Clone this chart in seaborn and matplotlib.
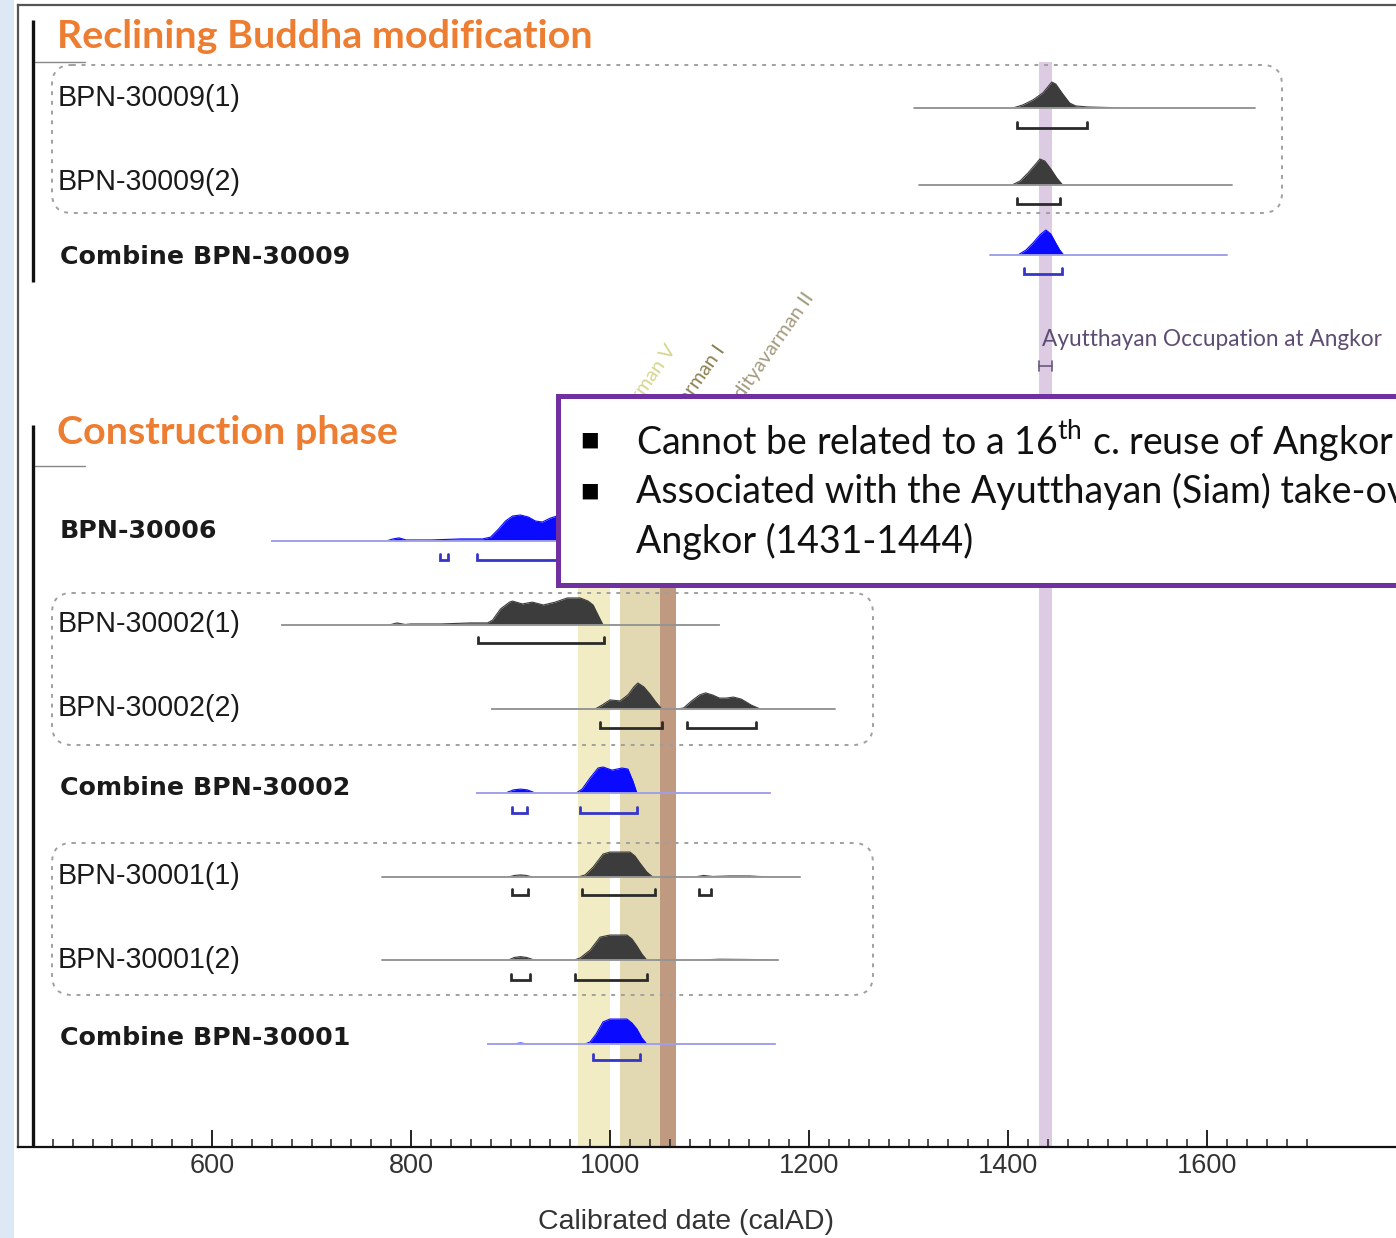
import matplotlib
matplotlib.use("Agg")
import matplotlib.pyplot as plt
import seaborn as sns
from matplotlib.patches import Rectangle, FancyBboxPatch
from matplotlib.ticker import FixedLocator

# ---------------------------------------------------------------- data
row_labels = ["BPN-30009(1)", "BPN-30009(2)", "Combine BPN-30009",
              "BPN-30006", "BPN-30002(1)", "BPN-30002(2)", "Combine BPN-30002",
              "BPN-30001(1)", "BPN-30001(2)", "Combine BPN-30001"]
row_bold = [False, False, True, True, False, False, True, False, False, True]
row_blue = [False, False, True, True, False, False, True, False, False, True]

# relative probability (percent of the tallest peak) against calendar year
bpn30009_1_years = [1306, 1405, 1415, 1425, 1435, 1440, 1444, 1448, 1455, 1462, 1468, 1480, 1500, 1520, 1648]
bpn30009_1_prob = [0, 0, 12, 31, 58, 81, 100, 92, 54, 19, 8, 4, 2, 0, 0]
bpn30009_1_range = [(1409, 1479)]

bpn30009_2_years = [1311, 1404, 1412, 1420, 1427, 1432, 1437, 1443, 1449, 1455, 1625]
bpn30009_2_prob = [0, 0, 15, 46, 77, 100, 92, 62, 27, 0, 0]
bpn30009_2_range = [(1409, 1452)]

comb30009_years = [1382, 1410, 1418, 1425, 1432, 1438, 1443, 1448, 1452, 1456, 1620]
comb30009_prob = [0, 0, 19, 46, 77, 96, 81, 46, 19, 0, 0]
comb30009_range = [(1416, 1454)]

bpn30006_years = [660, 775, 782, 788, 795, 820, 850, 872, 880, 888, 895, 902, 910, 918, 925,
                  932, 940, 950, 960, 975, 985, 992, 998, 1005, 1200]
bpn30006_prob = [0, 0, 8, 12, 4, 4, 8, 8, 15, 46, 77, 96, 100, 92, 77,
                 73, 88, 100, 104, 104, 92, 38, 8, 0, 0]
bpn30006_range = [(829, 837), (866, 995)]

bpn30002_1_years = [670, 778, 786, 794, 800, 830, 860, 877, 882, 890, 899, 902, 912, 922,
                    933, 945, 957, 970, 978, 983, 988, 993, 1110]
bpn30002_1_prob = [0, 0, 8, 2, 4, 4, 8, 8, 19, 62, 88, 92, 81, 88,
                   77, 88, 104, 104, 92, 77, 38, 0, 0]
bpn30002_1_range = [(867, 994)]

bpn30002_2_years = [881, 985, 992, 1000, 1010, 1018, 1024, 1028, 1034, 1040, 1046, 1052, 1060,
                    1068, 1074, 1082, 1090, 1096, 1103, 1110, 1117, 1124, 1132, 1142, 1151, 1226]
bpn30002_2_prob = [0, 0, 15, 35, 31, 54, 85, 100, 85, 58, 27, 0, 0,
                   0, 4, 31, 54, 62, 54, 42, 42, 46, 38, 15, 0, 0]
bpn30002_2_range = [(990, 1052), (1077, 1147)]

comb30002_years = [866, 895, 903, 910, 917, 925, 966, 972, 980, 988, 993, 1002, 1012, 1018, 1023, 1027, 1161]
comb30002_prob = [0, 0, 12, 15, 12, 0, 0, 15, 58, 96, 100, 88, 96, 92, 46, 0, 0]
comb30002_range = [(902, 917), (970, 1027)]

bpn30001_1_years = [771, 898, 904, 910, 916, 922, 968, 975, 983, 993, 1000, 1010, 1020, 1025,
                    1030, 1037, 1043, 1085, 1094, 1103, 1120, 1140, 1160, 1191]
bpn30001_1_prob = [0, 0, 6, 8, 6, 0, 0, 8, 38, 88, 96, 96, 96, 81,
                   54, 19, 0, 0, 6, 2, 4, 4, 0, 0]
bpn30001_1_range = [(902, 918), (972, 1045), (1089, 1102)]

bpn30001_2_years = [771, 898, 904, 910, 916, 924, 964, 970, 980, 990, 1000, 1010, 1017, 1022,
                    1027, 1032, 1037, 1090, 1110, 1140, 1169]
bpn30001_2_prob = [0, 0, 10, 13, 10, 0, 0, 8, 38, 88, 96, 96, 96, 81,
                   54, 23, 0, 0, 3, 2, 0]
bpn30001_2_range = [(900, 920), (965, 1037)]

comb30001_years = [877, 903, 910, 917, 975, 980, 986, 993, 1000, 1010, 1017, 1022, 1027, 1032, 1037, 1166]
comb30001_prob = [0, 0, 4, 0, 0, 8, 38, 85, 96, 96, 96, 81, 58, 23, 0, 0]
comb30001_range = [(983, 1030)]

rows = [
    (bpn30009_1_years, bpn30009_1_prob, bpn30009_1_range),
    (bpn30009_2_years, bpn30009_2_prob, bpn30009_2_range),
    (comb30009_years, comb30009_prob, comb30009_range),
    (bpn30006_years, bpn30006_prob, bpn30006_range),
    (bpn30002_1_years, bpn30002_1_prob, bpn30002_1_range),
    (bpn30002_2_years, bpn30002_2_prob, bpn30002_2_range),
    (comb30002_years, comb30002_prob, comb30002_range),
    (bpn30001_1_years, bpn30001_1_prob, bpn30001_1_range),
    (bpn30001_2_years, bpn30001_2_prob, bpn30001_2_range),
    (comb30001_years, comb30001_prob, comb30001_range),
]

reign_names = ["Jayavarman V", "Suryavarman I", "Udayadityavarman II"]
reign_start = [968, 1010, 1050]
reign_end = [1000, 1050, 1066]
ayutthaya_period = (1431, 1444)

major_ticks = list(range(600, 1601, 200))
minor_ticks = list(range(440, 1701, 20))

# ---------------------------------------------------------------- layout (pixels)
W, H, DPI = 1396, 1238, 100
PX_PER_YEAR = 0.995
YEAR_AT_0 = 600 - 212 / PX_PER_YEAR


def xpix(p):
    return YEAR_AT_0 + p / PX_PER_YEAR


row_base = [108, 185, 255, 541, 625, 709, 793, 877, 960, 1044]
row_range_y = [128, 204, 274, 560, 643, 728, 813, 895, 980, 1060]
row_label_y = [98, 182, 257, 531, 624, 708, 788, 876, 960, 1038]
peak_px = 0.26  # pixels per percent

sns.set_theme(style="white")
plt.rcParams["font.family"] = ["Liberation Sans", "DejaVu Sans"]
plt.rcParams["mathtext.fontset"] = "custom"
plt.rcParams["mathtext.rm"] = "Lato"

fig = plt.figure(figsize=(W / DPI, H / DPI), dpi=DPI)
fig.patch.set_facecolor("white")
fig.patches.append(Rectangle((0, 0), 14 / W, 1, transform=fig.transFigure,
                             facecolor="#dde8f5", edgecolor="none", zorder=0))

ax = fig.add_axes([18 / W, (H - 1147) / H, 1 - 18 / W, (1147 - 5) / H])
ax.set_facecolor("white")

# reign bands and the Ayutthayan occupation
band_colours = ["#f1ecc4", "#e2d9b2", "#c09a80"]
for s, e, c in zip(reign_start, reign_end, band_colours):
    ax.add_patch(Rectangle((s, 400), e - s, 1147 - 400, facecolor=c, edgecolor="none", zorder=0))
ax.add_patch(Rectangle((ayutthaya_period[0], 62), ayutthaya_period[1] - ayutthaya_period[0],
                       1147 - 62, facecolor="#dccbe2", edgecolor="none", zorder=0))

label_colours = ["#d6d690", "#8c8050", "#a39a7c"]
label_anchor = [(677, 350), (726, 350), (815, 298)]
for name, c, (px_, py_) in zip(reign_names, label_colours, label_anchor):
    ax.text(xpix(px_), py_, name, rotation=55, rotation_mode="anchor", ha="right",
            va="baseline", fontsize=14.5, color=c, family="Lato", zorder=1)

ax.text(xpix(1042), 339, "Ayutthayan Occupation at Angkor", fontsize=16.3, color="#5e4d72",
        family="Lato", va="center", ha="left", zorder=3)
a0, a1 = ayutthaya_period
ax.plot([a0, a1], [366, 366], color="#6a5a82", lw=1.2, zorder=3)
ax.plot([a0, a0], [361, 371], color="#6a5a82", lw=1.2, zorder=3)
ax.plot([a1, a1], [361, 371], color="#6a5a82", lw=1.2, zorder=3)

# dashed group boxes
for (x0, x1, y0, y1) in [(52, 1282, 65, 213), (52, 873, 593, 745), (52, 873, 843, 995)]:
    ax.add_patch(FancyBboxPatch((xpix(x0), y0), xpix(x1) - xpix(x0), y1 - y0,
                                boxstyle="round,pad=0,rounding_size=20",
                                facecolor="none", edgecolor="#a0a0a0", lw=1.4,
                                linestyle=(0, (2, 3)), zorder=1))

# distributions
for i, (years, prob, ranges) in enumerate(rows):
    y0 = row_base[i]
    if row_blue[i]:
        fill, base_c, rng_c = "#0a0aff", "#a8a8e8", "#3535c8"
    else:
        fill, base_c, rng_c = "#3c3c3c", "#9a9a9a", "#2a2a2a"
    top = [y0 - p * peak_px for p in prob]
    ax.fill_between(years, [y0] * len(years), top, color=fill, lw=0, zorder=2)
    sns.lineplot(x=years, y=top, ax=ax, color=fill, lw=0.8, sort=False, estimator=None, zorder=2)
    ax.plot([years[0], years[-1]], [y0, y0], color=base_c, lw=1.3, zorder=2.2)
    yr = row_range_y[i]
    for a, b in ranges:
        ax.plot([a, a, b, b], [yr - 6, yr, yr, yr - 6], color=rng_c, lw=2.0,
                solid_joinstyle="miter", zorder=2)
    ax.text(xpix(58 if not row_bold[i] else 60), row_label_y[i], row_labels[i],
            fontsize=18.2 if row_bold[i] else 20.6, fontweight="bold" if row_bold[i] else "normal",
            family="DejaVu Sans" if row_bold[i] else "Liberation Sans",
            color="#1a1a1a", va="center", ha="left", zorder=3)

# section titles and slide decorations
for txt, y in [("Reclining Buddha modification", 37), ("Construction phase", 432)]:
    ax.text(xpix(57), y, txt, fontsize=28.4, fontweight="bold", family="Lato",
            color="#ed7d31", va="center", ha="left", zorder=3)
for y in (62, 466):
    ax.plot([xpix(35), xpix(85)], [y, y], color="#888888", lw=1.0, zorder=3)
for y0, y1 in [(20, 282), (425, 1147)]:
    ax.plot([xpix(33), xpix(33)], [y0, y1], color="#111111", lw=2.4,
            solid_capstyle="butt", zorder=3)

# text box (runs past the right edge of the slide crop, as in the original slide)
ax.add_patch(Rectangle((xpix(558), 396), xpix(1430) - xpix(558), 189, facecolor="white",
                       edgecolor="#7030a0", lw=3.6, zorder=10))
box_lines = [(440, True, r"Cannot be related to a 16$^{\mathrm{th}}$ c. reuse of Angkor"),
             (491, True, "Associated with the Ayutthayan (Siam) take-over of"),
             (541, False, "Angkor (1431-1444)")]
for y, bullet, txt in box_lines:
    if bullet:
        ax.text(xpix(579), y, "\u25aa", fontsize=22, family="DejaVu Sans", color="black",
                va="center", ha="left", zorder=11)
    ax.text(xpix(636), y, txt, fontsize=27.0, family="Lato", color="#111111",
            va="center", ha="left", zorder=11)

# axes
ax.set_xlim(xpix(18), xpix(W))
ax.set_ylim(1147, 5)
ax.set_yticks([])
ax.xaxis.set_major_locator(FixedLocator(major_ticks))
ax.xaxis.set_minor_locator(FixedLocator(minor_ticks))
ax.tick_params(axis="x", which="major", direction="in", length=12, width=1.4,
               color="#222222", labelsize=19.5, labelcolor="#333333", pad=4, bottom=True)
ax.tick_params(axis="x", which="minor", direction="in", length=6, width=1.1,
               color="#222222", bottom=True)
ax.spines["right"].set_visible(False)
ax.spines["bottom"].set_color("#111111")
ax.spines["bottom"].set_linewidth(1.6)
for s in ("left", "top"):
    ax.spines[s].set_color("#555555")
    ax.spines[s].set_linewidth(1.6)
ax.set_xlabel("")
ax.set_ylabel("")

fig.text(686 / W, 1 - 1222 / H, "Calibrated date (calAD)", fontsize=20.5, color="#333333",
         ha="center", va="center", family="Liberation Sans")

fig.savefig("out.png", dpi=DPI)
